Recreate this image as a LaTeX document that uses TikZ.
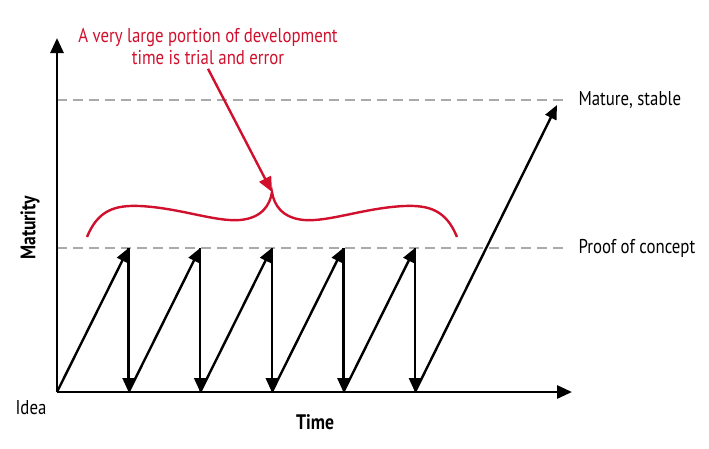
\documentclass[tikz,border=0pt]{standalone}
\usepackage{fontspec}
\setmainfont{PT Sans}[FakeStretch=0.84]
\usepackage{xcolor}
\usetikzlibrary{arrows.meta,positioning}
\definecolor{notered}{RGB}{208,16,44}
\definecolor{guidegray}{RGB}{170,170,170}

\begin{document}
\begin{tikzpicture}[x=1pt,y=-1pt,
  axis/.style ={line width=2.8pt,-{Triangle[length=15pt,width=13pt]}},
  jump/.style ={line width=2.4pt,-{Triangle[length=14pt,width=12pt]}},
  guide/.style={guidegray,line width=2pt,dash pattern=on 10pt off 6pt},
  lbl/.style  ={font=\fontsize{20}{22}\selectfont,anchor=west},
  axlbl/.style={font=\fontsize{21}{22}\selectfont\bfseries},
  note/.style ={font=\fontsize{20}{22}\selectfont,text=notered,align=center},
  brace/.style={notered,line width=2.4pt},
  pointer/.style={notered,line width=2.4pt,-{Triangle[length=15pt,width=13pt]}},
]
\useasboundingbox (0,0) rectangle (709,448);

\coordinate (o)    at (57,392);
\coordinate (ytop) at (57,38);
\coordinate (xend) at (572,392);
\coordinate (goal) at (557,105);

% levels
\draw[guide] (57,100) -- (567,100);
\draw[guide] (57,248) -- (567,248);
\node[lbl] (mature) at (575,100) {Mature, stable};
\node[lbl] (proof)  at (575,248) {Proof of concept};

% axes
\draw[axis] (o) -- (ytop);
\draw[axis] (o) -- (xend);
\node[axlbl,rotate=90] (maturity) at (30,228) {Maturity};
\node[axlbl] (time) at (315,422) {Time};
\node[font=\fontsize{20}{22}\selectfont] (idea) at (31,408) {Idea};

% trial and error
\coordinate (bot0) at (o);
\foreach \i in {1,...,5}{
  \coordinate (top\i) at ({57+71.6*\i},248);
  \coordinate (bot\i) at ({57+71.6*\i},392);
}
\foreach \i [evaluate=\i as \j using int(\i-1)] in {1,...,5}{
  \draw[jump] (bot\j) -- (top\i);
  \draw[jump] (top\i) -- (bot\i);
}
\draw[jump] (bot5) -- (goal);

% brace and note
\coordinate (tip) at (272,192);
\draw[brace] (87,237) .. controls (98,210) and (115,205) .. (140,206)
  .. controls (180,208) and (215,222) .. (240,220)
  .. controls (262,218) and (270,205) .. (tip)
  .. controls (274,205) and (282,218) .. (304,220)
  .. controls (329,222) and (364,208) .. (404,206)
  .. controls (429,205) and (446,210) .. (457,237);
\node[note] (remark) at (208,47) {A very large portion of development\\time is trial and error};
\draw[pointer] (remark.south) -- (tip);
\end{tikzpicture}
\end{document}
